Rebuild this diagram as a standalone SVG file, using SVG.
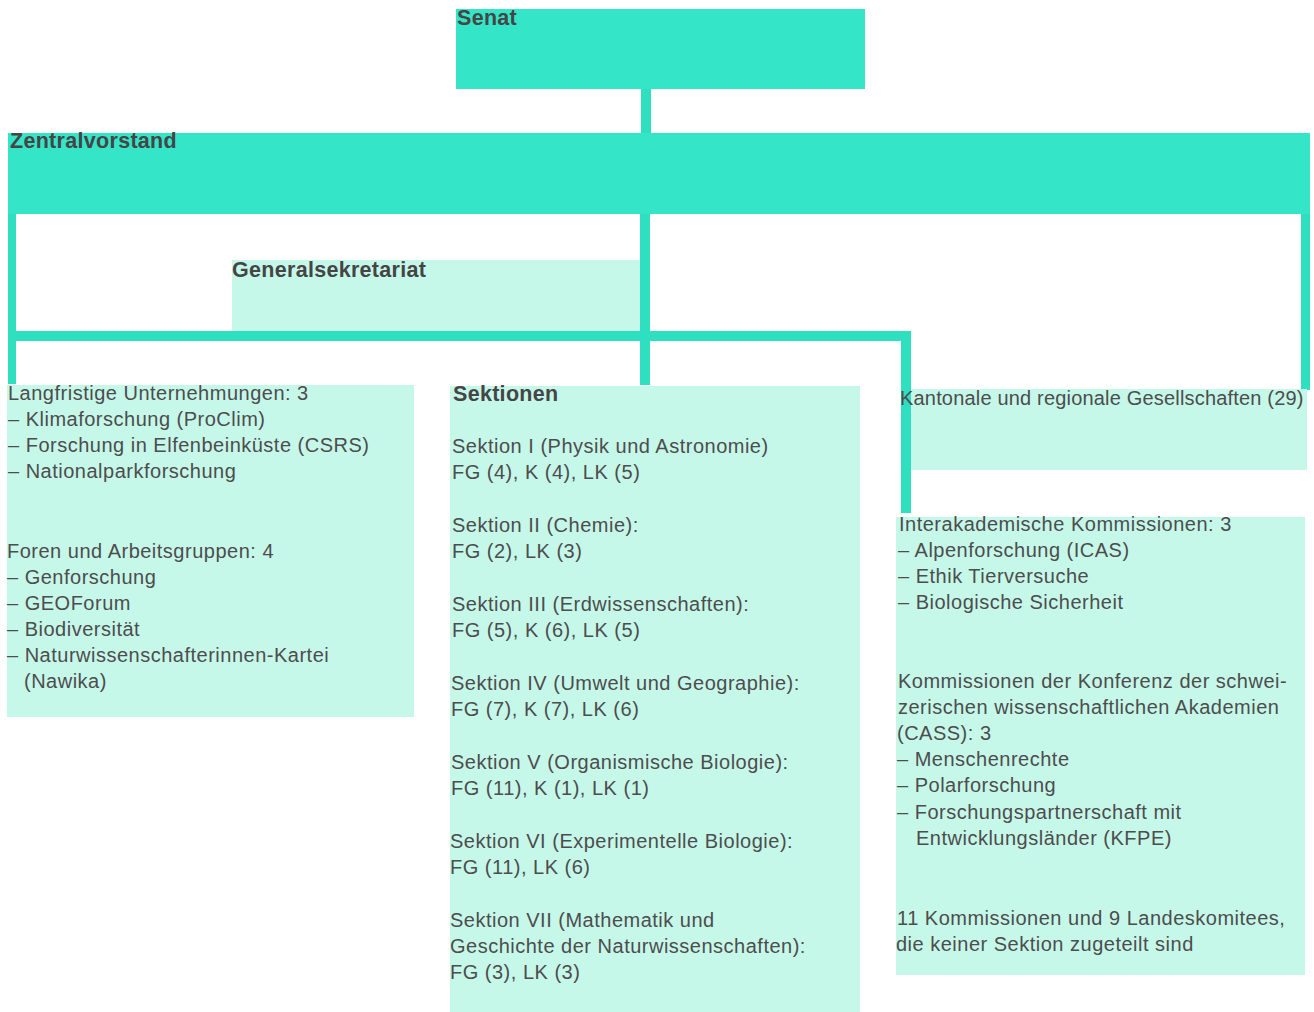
<svg xmlns="http://www.w3.org/2000/svg" width="1314" height="1012" viewBox="0 0 1314 1012">
<style>
.dark{fill:#34e6c7}
.light{fill:#c6f8ea}
.con{fill:none;stroke:#2ee0c0;stroke-linejoin:miter;stroke-linecap:butt}
text{font-family:"Liberation Sans",Arial,Helvetica,sans-serif;fill:#4d4d4d}
.t{font-size:20px;letter-spacing:0.5px}
.b{font-size:21.5px;font-weight:bold;letter-spacing:0.3px;fill:#454545}
</style>
<rect width="1314" height="1012" fill="#ffffff"/>
<g id="connectors">
<path class="con" d="M646,88 V134" stroke-width="10"/>
<path class="con" d="M645,213 V385" stroke-width="10"/>
<path class="con" d="M12,213 V384" stroke-width="8"/>
<path class="con" d="M8,336 H906 V513" stroke-width="10"/>
<path class="con" d="M1305.5,213 V390" stroke-width="9"/>
</g>
<g id="senat">
<rect class="dark" x="456" y="9" width="409" height="80"/>
<text class="b" x="457" y="25">Senat</text>
</g>
<g id="zentralvorstand">
<rect class="dark" x="8" y="133" width="1302" height="81"/>
<text class="b" x="10" y="148">Zentralvorstand</text>
</g>
<g id="generalsekretariat">
<rect class="light" x="232" y="260" width="408" height="71"/>
<text class="b" x="232" y="277">Generalsekretariat</text>
</g>
<g id="unternehmungen">
<rect class="light" x="7" y="385" width="407" height="332"/>
<text class="t" x="8" y="400">Langfristige Unternehmungen: 3</text>
<text class="t" x="8" y="426">– Klimaforschung (ProClim)</text>
<text class="t" x="8" y="452">– Forschung in Elfenbeinküste (CSRS)</text>
<text class="t" x="8" y="478">– Nationalparkforschung</text>
<text class="t" x="7" y="558">Foren und Arbeitsgruppen: 4</text>
<text class="t" x="7" y="584">– Genforschung</text>
<text class="t" x="7" y="610">– GEOForum</text>
<text class="t" x="7" y="636">– Biodiversität</text>
<text class="t" x="7" y="662">– Naturwissenschafterinnen-Kartei</text>
<text class="t" x="24" y="688">(Nawika)</text>
</g>
<g id="sektionen">
<rect class="light" x="450" y="386" width="410" height="626"/>
<text class="b" x="453" y="401">Sektionen</text>
<text class="t" x="452" y="453">Sektion I (Physik und Astronomie)</text>
<text class="t" x="452" y="479">FG (4), K (4), LK (5)</text>
<text class="t" x="452" y="532">Sektion II (Chemie):</text>
<text class="t" x="452" y="558">FG (2), LK (3)</text>
<text class="t" x="452" y="611">Sektion III (Erdwissenschaften):</text>
<text class="t" x="452" y="637">FG (5), K (6), LK (5)</text>
<text class="t" x="451" y="690">Sektion IV (Umwelt und Geographie):</text>
<text class="t" x="451" y="716">FG (7), K (7), LK (6)</text>
<text class="t" x="451" y="769">Sektion V (Organismische Biologie):</text>
<text class="t" x="451" y="795">FG (11), K (1), LK (1)</text>
<text class="t" x="450" y="848">Sektion VI (Experimentelle Biologie):</text>
<text class="t" x="450" y="874">FG (11), LK (6)</text>
<text class="t" x="450" y="927">Sektion VII (Mathematik und</text>
<text class="t" x="450" y="953">Geschichte der Naturwissenschaften):</text>
<text class="t" x="450" y="979">FG (3), LK (3)</text>
</g>
<g id="kantonale">
<rect class="light" x="911" y="389" width="396" height="81"/>
<text class="t" x="900" y="405" textLength="404" lengthAdjust="spacing">Kantonale und regionale Gesellschaften (29)</text>
</g>
<g id="kommissionen">
<rect class="light" x="896" y="517" width="409" height="458"/>
<text class="t" x="899" y="531">Interakademische Kommissionen: 3</text>
<text class="t" x="898" y="557">– Alpenforschung (ICAS)</text>
<text class="t" x="898" y="583">– Ethik Tierversuche</text>
<text class="t" x="898" y="609">– Biologische Sicherheit</text>
<text class="t" x="898" y="688">Kommissionen der Konferenz der schwei-</text>
<text class="t" x="898" y="714">zerischen wissenschaftlichen Akademien</text>
<text class="t" x="897" y="740">(CASS): 3</text>
<text class="t" x="897" y="766">– Menschenrechte</text>
<text class="t" x="897" y="792">– Polarforschung</text>
<text class="t" x="897" y="819">– Forschungspartnerschaft mit</text>
<text class="t" x="916" y="845">Entwicklungsländer (KFPE)</text>
<text class="t" x="897" y="925">11 Kommissionen und 9 Landeskomitees,</text>
<text class="t" x="896" y="951">die keiner Sektion zugeteilt sind</text>
</g>
</svg>
